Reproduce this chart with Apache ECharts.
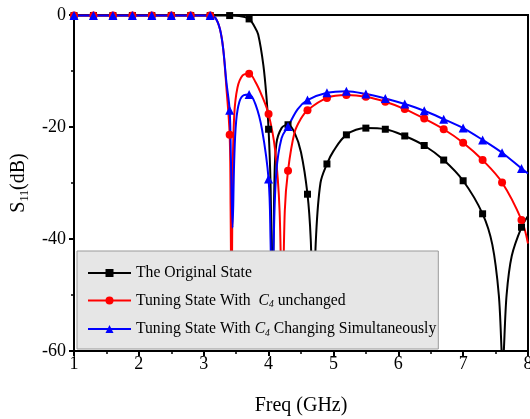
<!DOCTYPE html>
<html>
<head>
<meta charset="utf-8">
<script src="https://cdn.jsdelivr.net/npm/echarts@6/dist/echarts.min.js"></script>
<style>
html,body{margin:0;padding:0;background:#fff;}
#chart{width:530px;height:419px;}
</style>
</head>
<body>
<div id="chart"></div>
<script>
// ---- Data ----
const xTicks = [1, 2, 3, 4, 5, 6, 7, 8];
const yTicks = [0, -20, -40, -60];

const seriesNames = [
  'The Original State',
  'Tuning State With  C4 unchanged',
  'Tuning State With C4 Changing Simultaneously'
];

const freqBlack = [1.0,1.3,1.6,1.9,2.2,2.5,2.8,3.1,3.4,3.55,3.7,3.78,3.84,3.92,3.97,4.0,4.03,4.06,4.09,4.12,4.2,4.3,4.4,4.5,4.6,4.65,4.69,4.73,4.8,4.9,5.0,5.2,5.5,5.8,6.1,6.4,6.7,7.0,7.3,7.45,7.55,7.61,7.67,7.75,7.9,8.0];
const s11Black  = [-0.1,-0.1,-0.1,-0.1,-0.1,-0.1,-0.1,-0.1,-0.1,-0.2,-0.7,-2,-3.5,-9,-15,-20.4,-30,-52,-30,-23,-20.2,-19.6,-21,-24.5,-32,-40,-55,-40,-30,-26.6,-24.3,-21.4,-20.2,-20.4,-21.6,-23.3,-25.9,-29.6,-35.5,-41,-50,-62,-50,-43,-37.9,-35.9];

const freqRed = [1.0,1.3,1.6,1.9,2.2,2.5,2.8,3.1,3.18,3.25,3.3,3.35,3.4,3.415,3.43,3.445,3.47,3.52,3.6,3.7,3.8,3.9,4.0,4.1,4.17,4.21,4.25,4.3,4.4,4.5,4.6,4.9,5.2,5.5,5.8,6.1,6.4,6.7,7.0,7.3,7.6,7.9,8.0];
const s11Red  = [-0.1,-0.1,-0.1,-0.1,-0.1,-0.1,-0.1,-0.1,-0.5,-2.5,-6,-13,-21.4,-35,-56,-30,-18,-13,-10.8,-10.5,-12,-14.5,-17.7,-24,-35,-56,-35,-27.8,-21,-18.5,-17,-14.8,-14.3,-14.6,-15.5,-16.8,-18.5,-20.4,-22.8,-25.9,-29.9,-36.6,-40.8];

const freqBlue = [1.0,1.3,1.6,1.9,2.2,2.5,2.8,3.1,3.18,3.25,3.3,3.35,3.4,3.42,3.445,3.47,3.5,3.55,3.62,3.7,3.8,3.9,4.0,4.03,4.055,4.08,4.12,4.2,4.3,4.45,4.6,4.9,5.2,5.5,5.8,6.1,6.4,6.7,7.0,7.3,7.6,7.9,8.0];
const s11Blue  = [-0.1,-0.1,-0.1,-0.1,-0.1,-0.1,-0.1,-0.1,-0.5,-2.5,-6,-12,-17,-26,-38,-26,-19,-15.5,-14.3,-14.2,-16,-20.5,-29.3,-40,-56,-40,-28,-22,-19.9,-16.8,-15.2,-13.9,-13.6,-14.1,-14.9,-15.9,-17.1,-18.6,-20.2,-22.3,-24.6,-27.4,-28.3];

// ---- Chart ----
const FONT = "'Liberation Serif', 'Times New Roman', serif";
function isMarker(x) {
  const k = (x - 1) / 0.3;
  return Math.abs(k - Math.round(k)) < 1e-6;
}
function build(xs, ys) {
  return xs.map((x, i) => isMarker(x) ? [x, ys[i]] : { value: [x, ys[i]], symbol: 'none' });
}
const chart = echarts.init(document.getElementById('chart'), null, { renderer: 'canvas' });

const LFS = 15.7;
const legendRich = {
  n: { fontFamily: FONT, fontSize: LFS, color: '#000', lineHeight: 18 },
  i: { fontFamily: FONT, fontSize: LFS, fontStyle: 'italic', color: '#000', lineHeight: 18 },
  s: { fontFamily: FONT, fontSize: 9.5, fontStyle: 'italic', color: '#000', verticalAlign: 'bottom', lineHeight: 18 }
};

function lineSeries(name, xs, ys, color, symbol, size) {
  return {
    name: name,
    type: 'line',
    data: build(xs, ys),
    smooth: 0.35,
    symbol: symbol,
    symbolSize: size,
    showAllSymbol: true,
    lineStyle: { color: color, width: 2 },
    itemStyle: { color: color },
    emphasis: { disabled: true },
    animation: false
  };
}

chart.setOption({
  animation: false,
  grid: { left: 74, right: 2, top: 15, bottom: 68, show: true, borderColor: '#000', borderWidth: 2,
          outerBoundsMode: 'none', containLabel: false },
  xAxis: {
    type: 'value', min: 1, max: 8, interval: 1,
    name: 'Freq (GHz)', nameLocation: 'middle', nameGap: 45,
    nameTextStyle: { fontFamily: FONT, fontSize: 20, color: '#000' },
    axisLine: { onZero: false, lineStyle: { color: '#000', width: 2 } },
    axisTick: { length: 5, lineStyle: { color: '#000', width: 2 } },
    minorTick: { show: true, splitNumber: 2, length: 3, lineStyle: { color: '#000', width: 1.5 } },
    splitLine: { show: false },
    axisLabel: { fontFamily: FONT, fontSize: 18, color: '#000', margin: 4,
      formatter: v => xTicks.includes(v) ? String(v) : '' }
  },
  yAxis: {
    type: 'value', min: -60, max: 0, interval: 20,
    name: '{s|S}{sub|11}{s|(dB)}', nameLocation: 'middle', nameGap: 42, nameRotate: 90,
    nameTextStyle: {
      rich: {
        s: { fontFamily: FONT, fontSize: 20, color: '#000', lineHeight: 24 },
        sub: { fontFamily: FONT, fontSize: 12, color: '#000', verticalAlign: 'bottom', lineHeight: 24 }
      }
    },
    axisLine: { lineStyle: { color: '#000', width: 2 } },
    axisTick: { length: 5, lineStyle: { color: '#000', width: 2 } },
    minorTick: { show: true, splitNumber: 2, length: 3, lineStyle: { color: '#000', width: 1.5 } },
    splitLine: { show: false },
    axisLabel: { fontFamily: FONT, fontSize: 18, color: '#000', margin: 8,
      formatter: v => yTicks.includes(v) ? String(v) : '' }
  },
  legend: {
    orient: 'vertical', left: 77, top: 251,
    padding: [14, 2, 11, 10],
    itemWidth: 43, itemHeight: 10, itemGap: 11.5,
    backgroundColor: '#e6e6e6', borderColor: '#999', borderWidth: 1,
    data: seriesNames,
    formatter: function (name) {
      if (name === seriesNames[1]) return '{n|Tuning State With  }{i|C}{s|4}{n| unchanged}';
      if (name === seriesNames[2]) return '{n|Tuning State With }{i|C}{s|4}{n| Changing Simultaneously}';
      return '{n|' + name + '}';
    },
    textStyle: { rich: legendRich, fontFamily: FONT, fontSize: LFS, color: '#000' }
  },
  series: [
    lineSeries(seriesNames[0], freqBlack, s11Black, '#000000', 'rect', 7),
    lineSeries(seriesNames[1], freqRed, s11Red, '#ff0000', 'circle', 8),
    lineSeries(seriesNames[2], freqBlue, s11Blue, '#0000ff', 'triangle', 9)
  ]
});
</script>
</body>
</html>
